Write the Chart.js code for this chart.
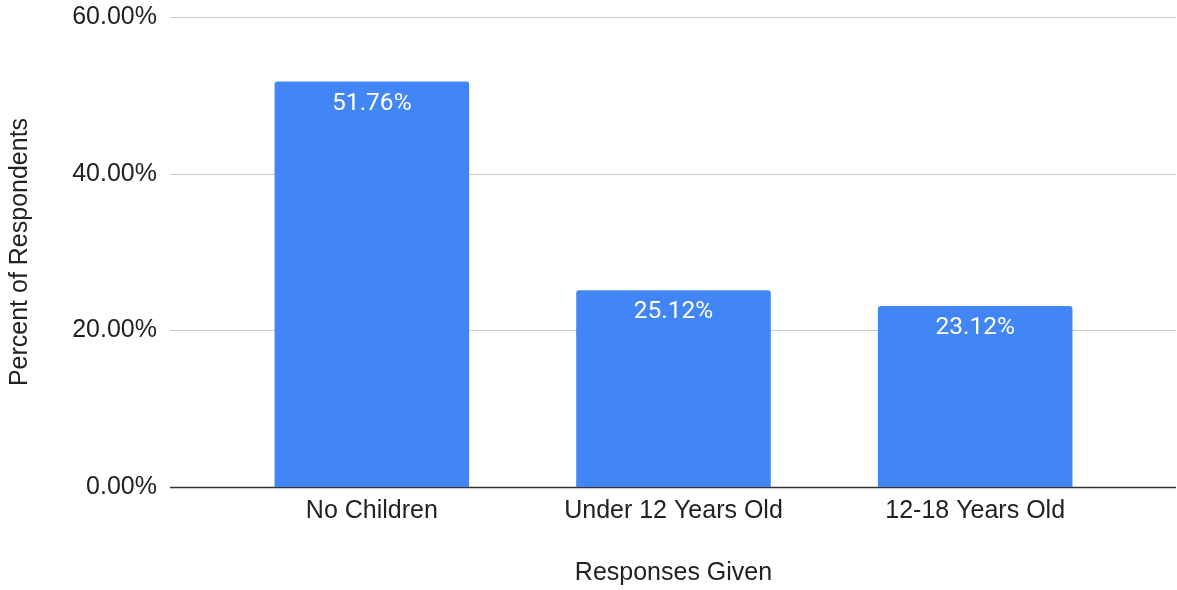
<!DOCTYPE html>
<html>
<head>
<meta charset="utf-8">
<script src="https://cdn.jsdelivr.net/npm/chart.js@4/dist/chart.umd.min.js"></script>
<style>
  html, body { margin: 0; padding: 0; background: #fff; }
  #wrap { width: 1177px; height: 590px; }
</style>
</head>
<body>
<div id="wrap"><canvas id="grafico"></canvas></div>
<script>
// dados
const categorias = ['No Children', 'Under 12 Years Old', '12-18 Years Old'];
const percentuais = [51.76, 25.12, 23.12];
const ticksY = [0, 20, 40, 60];

// linhas de grade atravessando toda a largura (como no Google Sheets)
const gradeLarga = {
  id: 'gradeLarga',
  beforeDatasetsDraw(chart) {
    const ctx = chart.ctx;
    const y = chart.scales.y;
    ctx.save();
    ticksY.forEach(v => {
      const py = Math.round(y.getPixelForValue(v)) + 0.5;
      ctx.strokeStyle = v === 0 ? '#333333' : '#cccccc';
      ctx.lineWidth = v === 0 ? 1.5 : 1;
      ctx.beginPath();
      ctx.moveTo(170, py);
      ctx.lineTo(1176, py);
      ctx.stroke();
    });
    ctx.restore();
  }
};

// rótulos de valor dentro das barras
const rotulos = {
  id: 'rotulos',
  afterDatasetsDraw(chart) {
    const ctx = chart.ctx;
    const meta = chart.getDatasetMeta(0);
    ctx.save();
    ctx.fillStyle = '#ffffff';
    ctx.font = '24.5px Roboto';
    ctx.textAlign = 'center';
    ctx.textBaseline = 'middle';
    meta.data.forEach((bar, i) => {
      ctx.fillText(percentuais[i].toFixed(2) + '%', bar.x, bar.y + 22);
    });
    ctx.restore();
  }
};

const ctx = document.getElementById('grafico').getContext('2d');

const grafico = new Chart(ctx, {
  type: 'bar',
  data: {
    labels: categorias,
    datasets: [{
      label: 'Percent of Respondents',
      data: percentuais,
      backgroundColor: '#4285f4',
      borderRadius: { topLeft: 3, topRight: 3, bottomLeft: 0, bottomRight: 0 },
      borderSkipped: 'bottom',
      barPercentage: 0.645,
      categoryPercentage: 1
    }]
  },
  options: {
    responsive: true,
    maintainAspectRatio: false,
    animation: false,
    layout: { padding: { top: 17, right: 51, left: 0, bottom: 0 } },
    plugins: {
      legend: { display: false },
      tooltip: { enabled: false }
    },
    scales: {
      x: {
        grid: { display: false, drawTicks: false },
        border: { display: false },
        ticks: {
          color: '#222222',
          font: { family: 'Liberation Sans', size: 25 },
          padding: 9,
          maxRotation: 0
        },
        title: {
          display: true,
          text: 'Responses Given',
          color: '#222222',
          font: { family: 'Liberation Sans', size: 25 },
          padding: { top: 0, bottom: 2 }
        },
        afterFit(scale) { scale.height = 103; }
      },
      y: {
        min: 0,
        max: 60,
        grid: { display: false, drawTicks: false },
        border: { display: false },
        ticks: {
          stepSize: 20,
          color: '#222222',
          font: { family: 'Liberation Sans', size: 25 },
          padding: 64,
          callback: v => v.toFixed(2) + '%'
        },
        title: {
          display: true,
          text: 'Percent of Respondents',
          color: '#222222',
          font: { family: 'Liberation Sans', size: 25 },
          padding: { top: 5, bottom: 0 }
        },
        afterFit(scale) {
          scale.width = 221;
          scale.paddingTop = 0;
          scale.paddingBottom = 0;
        }
      }
    }
  },
  plugins: [gradeLarga, rotulos]
});
</script>
</body>
</html>
